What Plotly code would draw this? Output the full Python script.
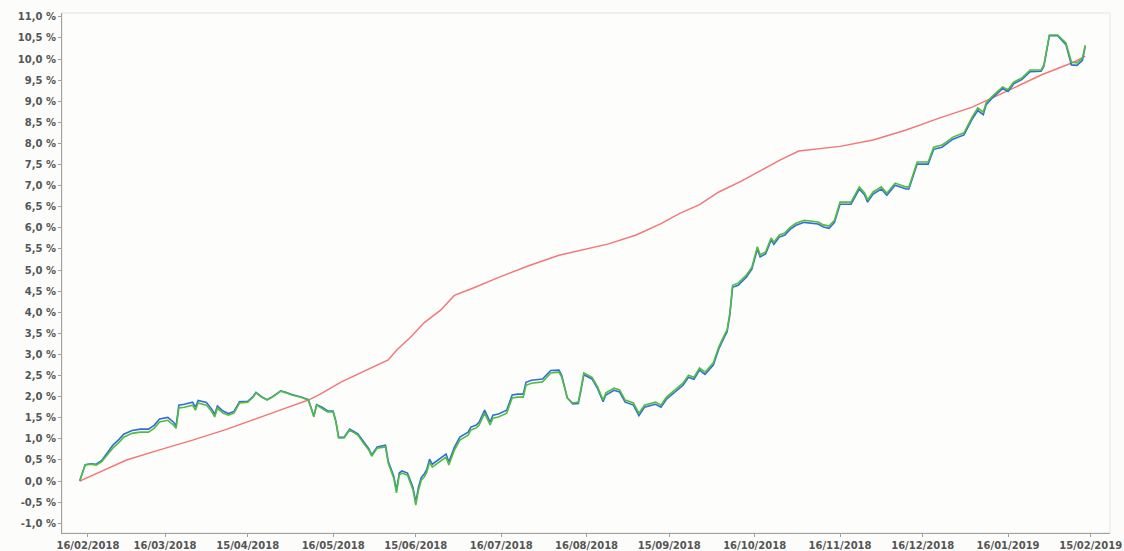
import plotly.graph_objects as go

# ---- data ----
dates = (
    ["2018-02-13", "2018-02-15", "2018-02-17", "2018-02-19", "2018-02-21", "2018-02-23", "2018-02-25", "2018-02-27"]
    + ["2018-03-01", "2018-03-04", "2018-03-07", "2018-03-10", "2018-03-12", "2018-03-14", "2018-03-17", "2018-03-19",
       "2018-03-20", "2018-03-21", "2018-03-23", "2018-03-26", "2018-03-27", "2018-03-28", "2018-03-31"]
    + ["2018-04-02", "2018-04-03", "2018-04-04", "2018-04-06", "2018-04-08", "2018-04-10", "2018-04-12", "2018-04-15",
       "2018-04-17", "2018-04-18", "2018-04-20", "2018-04-22", "2018-04-24", "2018-04-27", "2018-04-29"]
    + ["2018-05-01", "2018-05-04", "2018-05-07", "2018-05-08", "2018-05-09", "2018-05-10", "2018-05-12", "2018-05-14",
       "2018-05-16", "2018-05-17", "2018-05-18", "2018-05-20", "2018-05-22", "2018-05-25", "2018-05-27", "2018-05-29",
       "2018-05-30"]
    + ["2018-06-01", "2018-06-04", "2018-06-05", "2018-06-07", "2018-06-08", "2018-06-09", "2018-06-10", "2018-06-12",
       "2018-06-14", "2018-06-15", "2018-06-16", "2018-06-17", "2018-06-18", "2018-06-19", "2018-06-20", "2018-06-21",
       "2018-06-23", "2018-06-26", "2018-06-27", "2018-06-29"]
    + ["2018-07-01", "2018-07-04", "2018-07-05", "2018-07-07", "2018-07-08", "2018-07-10", "2018-07-12", "2018-07-13",
       "2018-07-15", "2018-07-18", "2018-07-20", "2018-07-22", "2018-07-24", "2018-07-25", "2018-07-27", "2018-07-31"]
    + ["2018-08-03", "2018-08-06", "2018-08-07", "2018-08-09", "2018-08-11", "2018-08-13", "2018-08-14", "2018-08-15",
       "2018-08-18", "2018-08-20", "2018-08-22", "2018-08-23", "2018-08-26", "2018-08-28", "2018-08-30"]
    + ["2018-09-02", "2018-09-04", "2018-09-06", "2018-09-10", "2018-09-12", "2018-09-14", "2018-09-17", "2018-09-20",
       "2018-09-22", "2018-09-24", "2018-09-26", "2018-09-28"]
    + ["2018-10-01", "2018-10-03", "2018-10-05", "2018-10-06", "2018-10-07", "2018-10-08", "2018-10-10", "2018-10-11",
       "2018-10-13", "2018-10-15", "2018-10-17", "2018-10-18", "2018-10-20", "2018-10-22", "2018-10-23", "2018-10-25",
       "2018-10-27", "2018-10-29", "2018-10-31"]
    + ["2018-11-03", "2018-11-08", "2018-11-10", "2018-11-12", "2018-11-14", "2018-11-16", "2018-11-20", "2018-11-23",
       "2018-11-25", "2018-11-26", "2018-11-28"]
    + ["2018-12-01", "2018-12-03", "2018-12-06", "2018-12-10", "2018-12-11", "2018-12-14", "2018-12-18", "2018-12-20",
       "2018-12-23", "2018-12-27", "2018-12-31"]
    + ["2019-01-03", "2019-01-05", "2019-01-07", "2019-01-08", "2019-01-10", "2019-01-12", "2019-01-14", "2019-01-16",
       "2019-01-18", "2019-01-21", "2019-01-24", "2019-01-28", "2019-01-29", "2019-01-31"]
    + ["2019-02-03", "2019-02-06", "2019-02-08", "2019-02-10", "2019-02-12", "2019-02-13"]
)

green = (
    [0.00, 0.38, 0.40, 0.38, 0.46, 0.62, 0.78, 0.90]
    + [1.04, 1.13, 1.16, 1.16, 1.25, 1.40, 1.44, 1.33, 1.25, 1.73, 1.75, 1.80, 1.68, 1.85, 1.80]
    + [1.64, 1.52, 1.73, 1.61, 1.56, 1.61, 1.85, 1.87, 1.99, 2.09, 1.99, 1.92, 1.99, 2.13, 2.09]
    + [2.04, 1.99, 1.92, 1.73, 1.52, 1.80, 1.73, 1.64, 1.64, 1.40, 1.02, 1.02, 1.21, 1.09, 0.90, 0.73, 0.59]
    + [0.78, 0.81, 0.43, 0.07, -0.28, 0.14, 0.19, 0.14, -0.21, -0.57, -0.21, 0.02, 0.09, 0.21, 0.45, 0.33,
       0.43, 0.57, 0.38, 0.73]
    + [0.97, 1.09, 1.21, 1.26, 1.33, 1.61, 1.33, 1.49, 1.52, 1.61, 1.97, 1.99, 1.99, 2.27, 2.32, 2.35]
    + [2.56, 2.58, 2.46, 1.97, 1.85, 1.87, 2.20, 2.56, 2.46, 2.23, 1.92, 2.09, 2.20, 2.16, 1.92]
    + [1.85, 1.61, 1.80, 1.87, 1.80, 1.99, 2.16, 2.32, 2.51, 2.46, 2.68, 2.58]
    + [2.80, 3.18, 3.46, 3.58, 3.98, 4.64, 4.69, 4.76, 4.88, 5.07, 5.55, 5.36, 5.43, 5.76, 5.66, 5.83,
       5.88, 6.02, 6.11]
    + [6.18, 6.14, 6.07, 6.04, 6.18, 6.61, 6.61, 6.97, 6.82, 6.66, 6.85]
    + [6.97, 6.82, 7.06, 6.97, 6.97, 7.56, 7.56, 7.91, 7.96, 8.15, 8.25]
    + [8.63, 8.84, 8.74, 8.96, 9.10, 9.22, 9.34, 9.27, 9.45, 9.55, 9.74, 9.74, 9.86, 10.57]
    + [10.57, 10.38, 9.93, 9.91, 10.02, 10.33]
)

blue = (
    [0.00, 0.39, 0.41, 0.40, 0.49, 0.67, 0.85, 0.97]
    + [1.11, 1.20, 1.23, 1.23, 1.32, 1.47, 1.51, 1.40, 1.31, 1.80, 1.82, 1.87, 1.75, 1.91, 1.86]
    + [1.70, 1.58, 1.78, 1.66, 1.60, 1.65, 1.88, 1.89, 2.01, 2.10, 2.00, 1.93, 2.00, 2.14, 2.10]
    + [2.05, 2.00, 1.93, 1.74, 1.54, 1.81, 1.75, 1.66, 1.66, 1.42, 1.04, 1.04, 1.23, 1.12, 0.93, 0.76, 0.62]
    + [0.81, 0.85, 0.47, 0.12, -0.22, 0.19, 0.24, 0.19, -0.15, -0.50, -0.14, 0.09, 0.16, 0.28, 0.52, 0.40,
       0.50, 0.64, 0.45, 0.80]
    + [1.04, 1.16, 1.28, 1.33, 1.40, 1.68, 1.40, 1.56, 1.59, 1.68, 2.04, 2.06, 2.06, 2.34, 2.39, 2.42]
    + [2.62, 2.63, 2.50, 1.97, 1.83, 1.84, 2.16, 2.52, 2.42, 2.19, 1.88, 2.04, 2.15, 2.11, 1.87]
    + [1.80, 1.55, 1.75, 1.82, 1.75, 1.94, 2.11, 2.27, 2.46, 2.41, 2.63, 2.53]
    + [2.75, 3.13, 3.41, 3.53, 3.93, 4.59, 4.64, 4.71, 4.83, 5.02, 5.50, 5.31, 5.38, 5.71, 5.61, 5.78,
       5.83, 5.97, 6.06]
    + [6.13, 6.09, 6.02, 5.99, 6.13, 6.56, 6.56, 6.92, 6.77, 6.61, 6.80]
    + [6.92, 6.77, 7.01, 6.92, 6.92, 7.51, 7.51, 7.86, 7.91, 8.10, 8.20]
    + [8.58, 8.78, 8.68, 8.91, 9.06, 9.18, 9.30, 9.23, 9.41, 9.51, 9.70, 9.71, 9.83, 10.55]
    + [10.55, 10.34, 9.86, 9.85, 9.97, 10.30]
)

red_dates = [
    "2018-02-13", "2018-02-20", "2018-03-02", "2018-03-14", "2018-03-26", "2018-04-07", "2018-04-19",
    "2018-04-28", "2018-05-07", "2018-05-11", "2018-05-19", "2018-05-26", "2018-06-01", "2018-06-05",
    "2018-06-08", "2018-06-13", "2018-06-18", "2018-06-24", "2018-06-29", "2018-07-05", "2018-07-16",
    "2018-07-26", "2018-08-06", "2018-08-24", "2018-09-03", "2018-09-12", "2018-09-19", "2018-09-26",
    "2018-10-03", "2018-10-11", "2018-10-18", "2018-10-25", "2018-11-01", "2018-11-09", "2018-11-16",
    "2018-11-28", "2018-12-10", "2018-12-22", "2019-01-03", "2019-01-16", "2019-01-28", "2019-02-09",
    "2019-02-13",
]
red = [
    0.00, 0.20, 0.50, 0.74, 0.97, 1.22, 1.49,
    1.71, 1.92, 2.05, 2.35, 2.56, 2.75, 2.87,
    3.10, 3.40, 3.75, 4.05, 4.40, 4.55, 4.85,
    5.10, 5.35, 5.62, 5.83, 6.10, 6.35, 6.55,
    6.85, 7.10, 7.35, 7.60, 7.82, 7.88, 7.93,
    8.08, 8.32, 8.60, 8.86, 9.25, 9.62, 9.93,
    10.07,
]

y_tick_values = [-1.0, -0.5, 0.0, 0.5, 1.0, 1.5, 2.0, 2.5, 3.0, 3.5, 4.0, 4.5, 5.0, 5.5,
                 6.0, 6.5, 7.0, 7.5, 8.0, 8.5, 9.0, 9.5, 10.0, 10.5, 11.0]
y_tick_labels = ["-1,0 %", "-0,5 %", "0,0 %", "0,5 %", "1,0 %", "1,5 %", "2,0 %", "2,5 %", "3,0 %",
                 "3,5 %", "4,0 %", "4,5 %", "5,0 %", "5,5 %", "6,0 %", "6,5 %", "7,0 %", "7,5 %",
                 "8,0 %", "8,5 %", "9,0 %", "9,5 %", "10,0 %", "10,5 %", "11,0 %"]
x_tick_dates = ["2018-02-16", "2018-03-16", "2018-04-15", "2018-05-16", "2018-06-15", "2018-07-16",
                "2018-08-16", "2018-09-15", "2018-10-16", "2018-11-16", "2018-12-16", "2019-01-16",
                "2019-02-15"]
x_tick_labels = ["16/02/2018", "16/03/2018", "15/04/2018", "16/05/2018", "15/06/2018", "16/07/2018",
                 "16/08/2018", "15/09/2018", "16/10/2018", "16/11/2018", "16/12/2018", "16/01/2019",
                 "15/02/2019"]

# ---- figure ----
fig = go.Figure()
fig.add_trace(go.Scatter(x=red_dates, y=red, mode="lines", name="benchmark",
                         line=dict(color="#f27878", width=1.5)))
fig.add_trace(go.Scatter(x=dates, y=blue, mode="lines", name="blue",
                         line=dict(color="#2f6fd4", width=1.6)))
fig.add_trace(go.Scatter(x=dates, y=green, mode="lines", name="green",
                         line=dict(color="#52bb42", width=1.6)))

tick_font = dict(family="DejaVu Sans", size=10, color="#555555", weight="bold")

fig.update_layout(
    width=1124, height=551, autosize=False,
    margin=dict(l=62, r=14, t=13, b=18, autoexpand=False),
    paper_bgcolor="#fcfcfa", plot_bgcolor="#fdfdfb",
    showlegend=False,
    xaxis=dict(
        type="date", range=["2018-02-06 14:00", "2019-02-22"], automargin=False,
        tickmode="array", tickvals=x_tick_dates, ticktext=x_tick_labels,
        showgrid=False, zeroline=False, showline=True, linecolor="#a0a0a0", linewidth=1,
        ticks="outside", ticklen=3, tickcolor="#a0a0a0", tickfont=tick_font,
    ),
    yaxis=dict(
        range=[-1.23, 11.09], automargin=False,
        tickmode="array", tickvals=y_tick_values, ticktext=y_tick_labels,
        showgrid=False, zeroline=False, showline=True, linecolor="#a0a0a0", linewidth=1,
        ticks="outside", ticklen=3, tickcolor="#a0a0a0", tickfont=tick_font,
    ),
    shapes=[dict(type="rect", xref="paper", yref="paper", x0=0, x1=1, y0=0, y1=1,
                 line=dict(color="#e4e4e4", width=1), layer="below")],
)

fig.write_html(
    "out.html",
    config={"displayModeBar": False},
    post_script="document.body.style.margin='0';document.body.style.overflow='hidden';"
                "document.body.style.background='#fcfcfa';",
)
